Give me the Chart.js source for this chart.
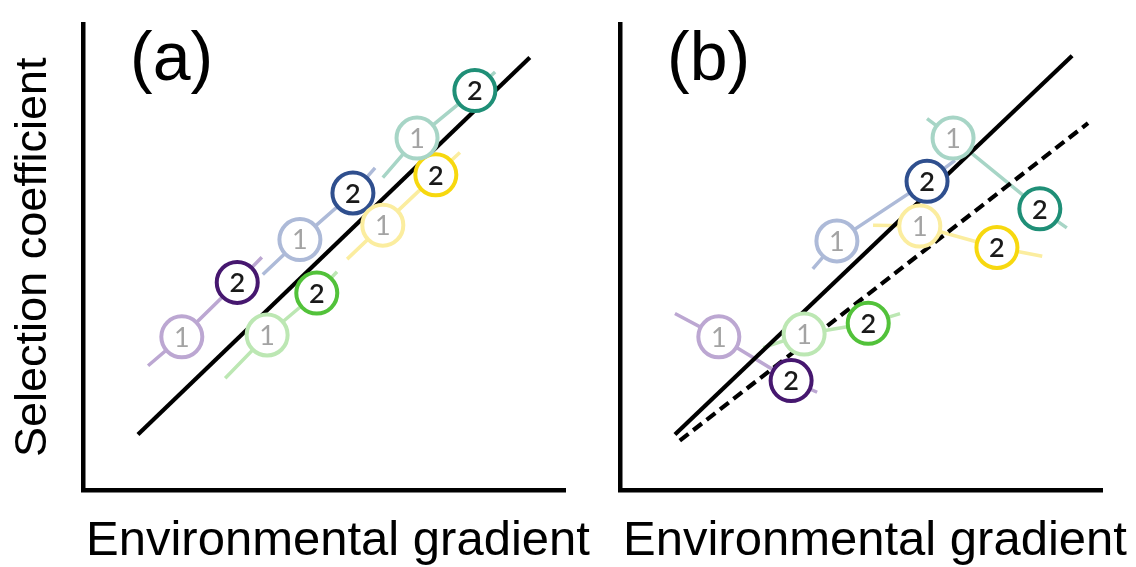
<!DOCTYPE html>
<html>
<head>
<meta charset="utf-8">
<script src="https://cdn.jsdelivr.net/npm/chart.js@4.4.1/dist/chart.umd.min.js"></script>
<style>
  html, body { margin: 0; padding: 0; background: #fff; }
  #wrap { position: relative; width: 1136px; height: 567px; overflow: hidden; }
  .panel { position: absolute; top: 0; height: 567px; }
  #panelA { left: 0; width: 600px; }
  #panelB { left: 540px; width: 596px; }
</style>
</head>
<body>
<div id="wrap">
  <div class="panel" id="panelA"><canvas id="chartA"></canvas></div>
  <div class="panel" id="panelB"><canvas id="chartB"></canvas></div>
</div>
<script>
// Values in axis units (0-100)
// genotype order: purple, blue, green, yellow, teal
const strongColors = ['#46176f', '#2f4f8e', '#52c23a', '#f7d80f', '#1f8f77'];
const fadedColors = ['#bca7d2', '#adbad8', '#bce7b3', '#fbed9f', '#a7d5c6'];

// Panel (a) - environment 1 and environment 2 positions
const aOneX = [20.5, 45.0, 38.2, 62.2, 69.3];
const aOneY = [32.9, 53.8, 33.3, 56.9, 75.6];
const aTwoX = [32.0, 56.0, 48.5, 73.2, 81.3];
const aTwoY = [44.6, 63.8, 42.3, 67.7, 85.8];
const aSegStartX = [13.5, 37.3, 29.5, 54.8, 62.2];
const aSegStartY = [26.7, 46.3, 24.0, 49.6, 67.1];
const aSegEndX = [37.1, 60.6, 52.7, 78.2, 85.5];
const aSegEndY = [50.0, 69.2, 46.9, 72.5, 89.8];
const aLineX = [11.4, 92.7];
const aLineY = [11.9, 92.9];

// Panel (b)
const bOneX = [20.5, 45.0, 38.2, 62.2, 69.1];
const bOneY = [32.9, 53.5, 33.5, 56.7, 75.6];
const bTwoX = [35.5, 63.7, 51.5, 78.2, 87.1];
const bTwoY = [23.5, 66.3, 35.8, 52.1, 60.4];
const bSegStartX = [11.4, 40.0, 29.7, 52.5, 63.7];
const bSegStartY = [37.9, 47.5, 30.6, 56.9, 79.8];
const bSegEndX = [40.9, 69.5, 58.1, 87.6, 92.7];
const bSegEndY = [21.0, 70.8, 37.9, 50.2, 56.3];
const bSolidX = [11.4, 93.8];
const bSolidY = [11.9, 93.3];
const bDashX = [12.4, 97.1];
const bDashY = [10.6, 78.8];

const FONT = '"Liberation Sans", Arial, sans-serif';
const X_TITLE = 'Environmental gradient';

const toPoints = (xs, ys) => xs.map((x, i) => ({ x, y: ys[i] }));

// Draws the numbers inside the circles, the panel letter and the x title
// (the scale title squeezes text to the chart width, so it is drawn here)
const circleText = {
  id: 'circleText',
  afterDatasetsDraw(chart, args, opts) {
    const ctx = chart.ctx;
    chart.data.datasets.forEach((ds, i) => {
      if (!ds.circleLabel) return;
      const meta = chart.getDatasetMeta(i);
      ctx.save();
      ctx.font = ds.labelFont;
      ctx.fillStyle = ds.labelColor;
      ctx.textAlign = 'center';
      ctx.textBaseline = 'middle';
      meta.data.forEach(pt => ctx.fillText(ds.circleLabel, pt.x, pt.y + 1));
      ctx.restore();
    });
    const area = chart.chartArea;
    ctx.save();
    ctx.fillStyle = '#000';
    ctx.textBaseline = 'alphabetic';
    ctx.textAlign = 'left';
    ctx.font = '68px ' + FONT;
    ctx.fillText(opts.letter, area.left + 47, area.top + 55);
    ctx.font = '49px ' + FONT;
    ctx.fillText(X_TITLE, area.left + 3, area.bottom + 65);
    ctx.restore();
  }
};

function makePanel(canvasId, p) {
  const datasets = [];

  // coloured reaction segments, beneath everything
  for (let g = 0; g < 5; g++) {
    datasets.push({
      type: 'line',
      data: [
        { x: p.segStartX[g], y: p.segStartY[g] },
        { x: p.oneX[g], y: p.oneY[g] },
        { x: p.twoX[g], y: p.twoY[g] },
        { x: p.segEndX[g], y: p.segEndY[g] }
      ],
      borderColor: fadedColors[g],
      borderWidth: 3.5,
      pointRadius: 0,
      order: 3
    });
  }

  p.lines.forEach(l => {
    datasets.push({
      type: 'line',
      data: toPoints(l.x, l.y),
      borderColor: '#000',
      borderWidth: 4.2,
      borderDash: l.dash || [],
      pointRadius: 0,
      order: 2
    });
  });

  datasets.push({
    type: 'scatter',
    data: toPoints(p.oneX, p.oneY),
    pointRadius: 20.5,
    pointBorderWidth: 4,
    pointBackgroundColor: '#fff',
    pointBorderColor: fadedColors,
    circleLabel: '1',
    labelColor: '#a3a3a3',
    labelFont: '27px Lato, sans-serif',
    order: 1
  });
  datasets.push({
    type: 'scatter',
    data: toPoints(p.twoX, p.twoY),
    pointRadius: 20.5,
    pointBorderWidth: 4,
    pointBackgroundColor: '#fff',
    pointBorderColor: strongColors,
    circleLabel: '2',
    labelColor: '#1a1a1a',
    labelFont: '600 27px Lato, sans-serif',
    order: 1
  });

  return new Chart(document.getElementById(canvasId), {
    type: 'scatter',
    data: { datasets },
    options: {
      responsive: true,
      maintainAspectRatio: false,
      animation: false,
      events: [],
      clip: false,
      layout: { padding: { left: 0, top: 11, right: p.padRight, bottom: 0 } },
      scales: {
        x: {
          type: 'linear',
          min: 0,
          max: 100,
          ticks: { display: false },
          grid: { display: false },
          border: { display: true, color: '#000', width: 4.5 },
          afterFit: s => { s.height = 77; }
        },
        y: {
          type: 'linear',
          min: 0,
          max: 100,
          ticks: { display: false },
          grid: { display: false },
          border: { display: true, color: '#000', width: 4.5 },
          title: {
            display: p.showYTitle,
            text: 'Selection coefficient',
            color: '#000',
            font: { family: FONT, size: 45 },
            padding: { top: 7, bottom: 0 }
          },
          afterFit: s => { s.width = p.leftWidth; }
        }
      },
      plugins: {
        legend: { display: false },
        tooltip: { enabled: false },
        circleText: { letter: p.letter }
      }
    },
    plugins: [circleText]
  });
}

makePanel('chartA', {
  oneX: aOneX, oneY: aOneY, twoX: aTwoX, twoY: aTwoY,
  segStartX: aSegStartX, segStartY: aSegStartY, segEndX: aSegEndX, segEndY: aSegEndY,
  lines: [{ x: aLineX, y: aLineY }],
  letter: '(a)',
  showYTitle: true,
  leftWidth: 83,
  padRight: 35
});

makePanel('chartB', {
  oneX: bOneX, oneY: bOneY, twoX: bTwoX, twoY: bTwoY,
  segStartX: bSegStartX, segStartY: bSegStartY, segEndX: bSegEndX, segEndY: bSegEndY,
  lines: [{ x: bSolidX, y: bSolidY }, { x: bDashX, y: bDashY, dash: [11, 6] }],
  letter: '(b)',
  showYTitle: false,
  leftWidth: 80,
  padRight: 34
});
</script>
</body>
</html>
